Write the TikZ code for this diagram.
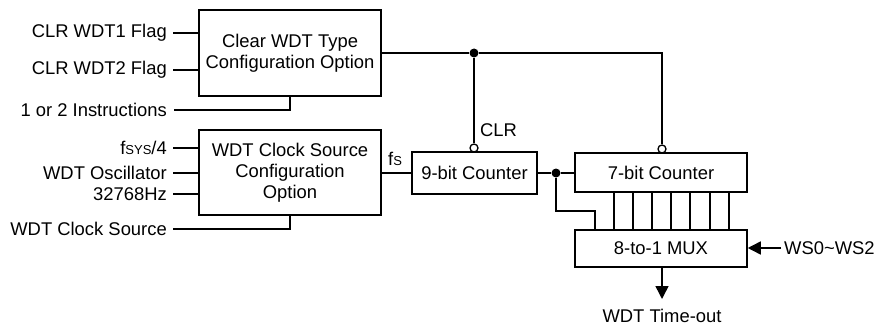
\documentclass[tikz,border=0pt]{standalone}
\usepackage{fontspec}
\setmainfont{Liberation Sans}
\usetikzlibrary{arrows.meta,calc}
\tikzset{
  blk/.style={draw, line width=1.5pt, align=center, inner sep=0pt},
  lbl/.style={inner sep=0pt},
  wire/.style={line width=1.5pt},
  dot/.style={circle, fill, inner sep=0pt, minimum size=9pt},
  bub/.style={circle, draw, fill=white, line width=1.3pt, inner sep=0pt, minimum size=8pt},
  arr/.style={wire, -{Triangle[length=13pt,width=13pt]}}
}
\newcommand{\sm}[1]{{\fontsize{13}{13}\selectfont #1}}
\begin{document}
\begin{tikzpicture}[x=1pt,y=-1pt, font=\fontsize{18.4}{21}\selectfont]
\useasboundingbox (0,0) rectangle (885,326);
% blocks
\node[blk, minimum width=182pt, minimum height=86pt] (box1) at (290,53) {Clear WDT Type\\Configuration Option};
\node[blk, minimum width=182pt, minimum height=85pt] (box2) at (290,172.5) {WDT Clock Source\\Configuration\\Option};
\node[blk, minimum width=125pt, minimum height=42pt] (cnt9) at (474.5,173) {9-bit Counter};
\node[blk, minimum width=172pt, minimum height=39pt] (cnt7) at (661,172.5) {7-bit Counter};
\node[blk, minimum width=172pt, minimum height=37pt] (mux) at (661,248.5) {8-to-1 MUX};
% input labels
\node[lbl, anchor=east] (i1) at (167,33) {CLR WDT1 Flag};
\node[lbl, anchor=east] (i2) at (167,70) {CLR WDT2 Flag};
\node[lbl, anchor=east] (i3) at (167,110) {1 or 2 Instructions};
\node[lbl, anchor=east] (c1) at (167,148) {f\sm{SYS}/4};
\node[lbl, anchor=east] (c2) at (167,173) {WDT Oscillator};
\node[lbl, anchor=east] (c3) at (167,194) {32768Hz};
\node[lbl, anchor=east] (c4) at (167,229) {WDT Clock Source};
\draw[wire] ([xshift=6pt]i1.east) -- (i1.east -| box1.west);
\draw[wire] ([xshift=6pt]i2.east) -- (i2.east -| box1.west);
\draw[wire] ([xshift=7pt]i3.east) -| (box1.south);
\draw[wire] ([xshift=6pt]c1.east) -- (c1.east -| box2.west);
\draw[wire] ([xshift=6pt]c2.east) -- (c2.east -| box2.west);
\draw[wire] ([xshift=6pt]c3.east) -- (c3.east -| box2.west);
\draw[wire] ([xshift=6pt]c4.east) -| (box2.south);
% fs
\draw[wire] (box2.east |- cnt9.west) -- (cnt9.west);
\node[lbl, anchor=base west] (fs) at (388,165) {f\sm{S}};
% clear line
\node[dot] (d1) at (474,53) {};
\node[bub] (b1) at (474,148) {};
\node[bub] (b2) at (662,149) {};
\coordinate (k1) at (662,53);
\draw[wire] (box1.east |- d1) -- (d1) -- (k1) -- (b2.north);
\draw[wire] (d1) -- (b1.north);
\node[lbl, anchor=base west] (clr) at (480,136) {CLR};
% counter chain
\node[dot] (d2) at (556,173) {};
\draw[wire] (cnt9.east) -- (d2) -- (d2 -| cnt7.west);
\coordinate (k2) at (556,211);
\coordinate (k3) at (595,211);
\draw[wire] (d2) -- (k2) -- (k3) -- (k3 |- mux.north);
\foreach \x in {614,633,652,671,690,710,729}{
  \draw[wire] (\x,0 |- cnt7.south) -- (\x,0 |- mux.north);
}
% select and output
\node[lbl, anchor=west] (ws) at (784,248) {WS0\textasciitilde WS2};
\draw[arr] ([xshift=-3pt]ws.west) -- (ws.west -| mux.east);
\node[lbl, anchor=center] (out) at (662,316) {WDT Time-out};
\coordinate (k4) at (662,299);
\draw[arr] (k4 |- mux.south) -- (k4);
\end{tikzpicture}
\end{document}
